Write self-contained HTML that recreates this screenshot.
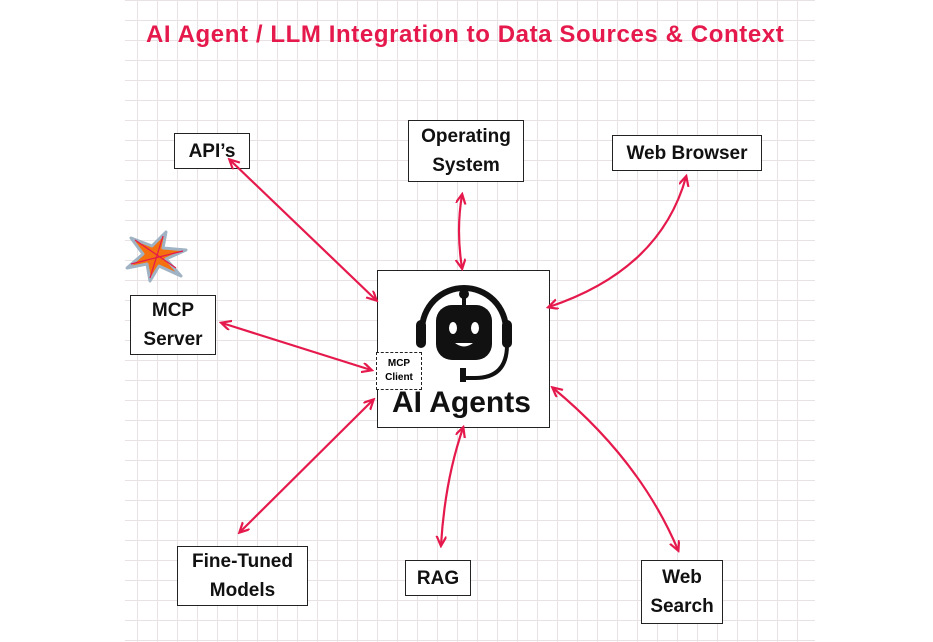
<!DOCTYPE html>
<html><head><meta charset="utf-8"><style>
html,body{margin:0;padding:0}
body{width:933px;height:642px;position:relative;overflow:hidden;background:#fff;font-family:"Liberation Sans",sans-serif}
.grid{position:absolute;left:125px;top:0;width:690px;height:642px;
background-image:linear-gradient(#e9e2e5 1px,transparent 1px),linear-gradient(90deg,#e9e2e5 1px,transparent 1px);
background-size:20px 20px;background-position:12px 0px}
.box{position:absolute;border:1.8px solid #222;background:#fff;display:flex;align-items:center;justify-content:center;text-align:center;font-weight:bold;font-size:19px;line-height:29px;color:#111;box-sizing:border-box}
.title{position:absolute;left:146px;top:21px;font-size:24px;letter-spacing:0.6px;font-weight:bold;color:#e5194c;white-space:nowrap}
svg{position:absolute;left:0;top:0}
</style></head><body>
<div class="grid"></div>
<div class="title">AI Agent / LLM Integration to Data Sources &amp; Context</div>
<div class="box" style="left:174px;top:133px;width:76px;height:36px">API’s</div>
<div class="box" style="left:408px;top:120px;width:116px;height:62px">Operating<br>System</div>
<div class="box" style="left:612px;top:135px;width:150px;height:36px">Web Browser</div>
<div class="box" style="left:130px;top:295px;width:86px;height:60px">MCP<br>Server</div>
<div class="box" style="left:377px;top:270px;width:173px;height:158px"></div>
<div class="box" style="left:177px;top:546px;width:131px;height:60px">Fine-Tuned<br>Models</div>
<div class="box" style="left:405px;top:560px;width:66px;height:36px">RAG</div>
<div class="box" style="left:641px;top:560px;width:82px;height:64px">Web<br>Search</div>
<div style="position:absolute;left:392px;top:386px;font-size:30px;font-weight:bold;color:#111">AI Agents</div>
<div style="position:absolute;left:376px;top:352px;width:46px;height:38px;border:1.5px dashed #222;background:#fff;font-size:10px;font-weight:bold;text-align:center;line-height:14px;box-sizing:border-box;padding-top:4px">MCP<br>Client</div>
<svg width="933" height="642" viewBox="0 0 933 642">
<defs><marker id="a" markerWidth="12" markerHeight="12" refX="9" refY="5" orient="auto-start-reverse" markerUnits="userSpaceOnUse"><path d="M0,0 L10,5 L0,10" fill="none" stroke="#e5194c" stroke-width="2.2"/></marker></defs>
<g fill="none" stroke="#e5194c" stroke-width="2.2" marker-start="url(#a)" marker-end="url(#a)">
<path d="M230,160 L376,300"/>
<path d="M462,195 Q456,230 462,268"/>
<path d="M686,177 Q660,270 549,307"/>
<path d="M222,323 L371,370"/>
<path d="M240,532 L373,400"/>
<path d="M441,545 Q445,480 463,428"/>
<path d="M553,388 Q640,460 678,550"/>
</g>
<g fill="#111" stroke="#111">
<path d="M422,330 A42,42 0 0 1 506,330" fill="none" stroke-width="6"/>
<rect x="416" y="320" width="10" height="28" rx="5" stroke="none"/>
<rect x="502" y="320" width="10" height="28" rx="5" stroke="none"/>
<path d="M507,345 Q507,378 475,378 L462,378" fill="none" stroke-width="4"/>
<rect x="460" y="368" width="6" height="14" stroke="none"/>
<circle cx="464" cy="294" r="5" stroke="none"/>
<rect x="462" y="296" width="4" height="10" stroke="none"/>
<rect x="436" y="305" width="56" height="55" rx="16" stroke="none"/>
<ellipse cx="453" cy="328" rx="4" ry="6" fill="#fff" stroke="none"/>
<ellipse cx="475" cy="328" rx="4" ry="6" fill="#fff" stroke="none"/>
<path d="M455,343 Q464,350 473,343 Z" fill="#fff" stroke="none"/>
</g>
<polygon points="166,232 163,248 186,250 166,259 181,276 159,266 150,281 147,264 127,268 143,254 131,238 152,246" fill="#f5700f" stroke="#9fb3c4" stroke-width="3" stroke-linejoin="round"/>
<g stroke="#e5194c" stroke-width="1.2"><line x1="135" y1="240" x2="176" y2="268"/><line x1="163" y1="236" x2="150" y2="278"/><line x1="131" y1="264" x2="183" y2="251"/></g>
</svg>
</body></html>
